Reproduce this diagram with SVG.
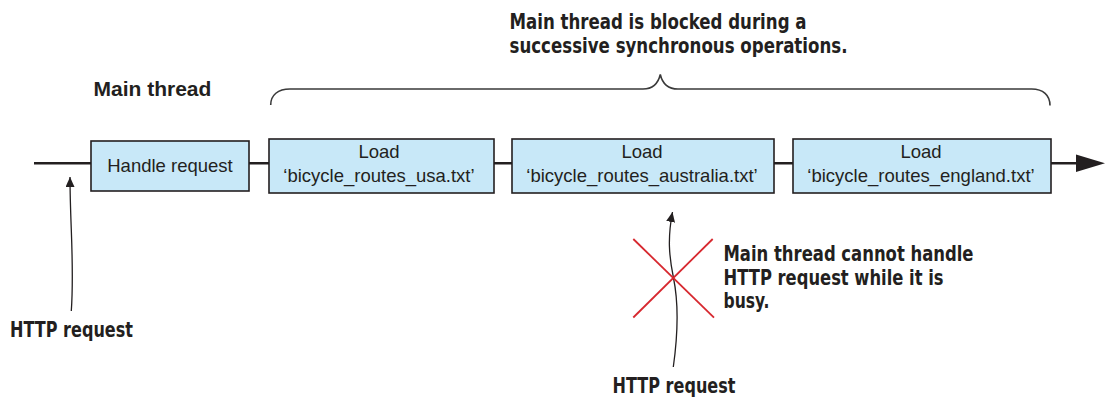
<svg xmlns="http://www.w3.org/2000/svg" width="1110" height="399" viewBox="0 0 1110 399">
  <defs>
    <style>
      .box { fill: #c8e8f8; stroke: #231f20; stroke-width: 1.6; }
      .lbl { font-family: "Liberation Sans", Arial, sans-serif; font-size: 18.5px; fill: #231f20; text-anchor: middle; }
      .note { font-family: "DejaVu Sans Condensed", "Liberation Sans", sans-serif; font-weight: bold; font-size: 21px; fill: #231f20; }
      .head { font-family: "Liberation Sans", Arial, sans-serif; font-weight: bold; font-size: 21px; fill: #231f20; }
      .timeline { stroke: #231f20; stroke-width: 2.5; fill: none; }
      .req { stroke: #231f20; stroke-width: 1.3; fill: none; marker-end: url(#tip); }
      .brace { stroke: #3a3a3a; stroke-width: 1.6; fill: none; }
      .cross { stroke: #d7282f; stroke-width: 1.8; }
    </style>
    <marker id="tip" markerUnits="userSpaceOnUse" markerWidth="10" markerHeight="10" refX="10" refY="4.5" orient="auto">
      <path d="M0,0 L10,4.5 L0,9 z" fill="#231f20"/>
    </marker>
  </defs>

  <rect width="1110" height="399" fill="#ffffff"/>

  <!-- connectors: timeline, incoming requests, brace -->
  <g id="connectors">
    <line class="timeline" x1="34" y1="163.3" x2="1078" y2="163.3"/>
    <polygon points="1076,154.5 1105,163.3 1076,172" fill="#231f20"/>
    <path class="req" d="M71.3,311 C74.5,265 70,225 70,177"/>
    <path class="req" d="M673.3,367 C678.5,330 678,300 673.5,278 C669,256 667.5,238 672.5,212"/>
    <path class="brace" d="M270.7,105 C270.7,95 278,89 290,89 L643,89 C653,89 658,84 660.3,74.5 C662.5,84 668,89 678,89 L1031.7,89 C1043,89 1050,95 1050,105.5"/>
  </g>

  <g id="main-thread-label">
    <text class="head" x="93.5" y="96">Main thread</text>
  </g>

  <g id="blocked-note">
    <text class="note" x="509.5" y="29.3" textLength="297" lengthAdjust="spacingAndGlyphs">Main thread is blocked during a</text>
    <text class="note" x="509.5" y="52.7" textLength="338" lengthAdjust="spacingAndGlyphs">successive synchronous operations.</text>
  </g>

  <g id="handle-request">
    <rect class="box" x="91" y="141" width="158" height="50"/>
    <text class="lbl" x="170" y="171.7">Handle request</text>
  </g>

  <g id="load-usa">
    <rect class="box" x="269" y="139" width="225" height="54"/>
    <text class="lbl" x="379" y="157.7">Load</text>
    <text class="lbl" x="379" y="181.7">‘bicycle_routes_usa.txt’</text>
  </g>

  <g id="load-australia">
    <rect class="box" x="512" y="139" width="262" height="54"/>
    <text class="lbl" x="642" y="157.7">Load</text>
    <text class="lbl" x="642" y="181.7">‘bicycle_routes_australia.txt’</text>
  </g>

  <g id="load-england">
    <rect class="box" x="793" y="139" width="258" height="54"/>
    <text class="lbl" x="921" y="157.7">Load</text>
    <text class="lbl" x="921" y="181.7">‘bicycle_routes_england.txt’</text>
  </g>

  <g id="http-request-1">
    <text class="note" x="10" y="336.5" textLength="123" lengthAdjust="spacingAndGlyphs">HTTP request</text>
  </g>

  <g id="blocked-request">
    <line class="cross" x1="633.3" y1="239" x2="714" y2="317.7"/>
    <line class="cross" x1="712.7" y1="239" x2="633.3" y2="317.5"/>
  </g>

  <g id="busy-note">
    <text class="note" x="723.5" y="261" textLength="250" lengthAdjust="spacingAndGlyphs">Main thread cannot handle</text>
    <text class="note" x="723.5" y="284.5" textLength="220" lengthAdjust="spacingAndGlyphs">HTTP request while it is</text>
    <text class="note" x="723.5" y="308" textLength="46" lengthAdjust="spacingAndGlyphs">busy.</text>
  </g>

  <g id="http-request-2">
    <text class="note" x="612.5" y="393" textLength="123" lengthAdjust="spacingAndGlyphs">HTTP request</text>
  </g>
</svg>
